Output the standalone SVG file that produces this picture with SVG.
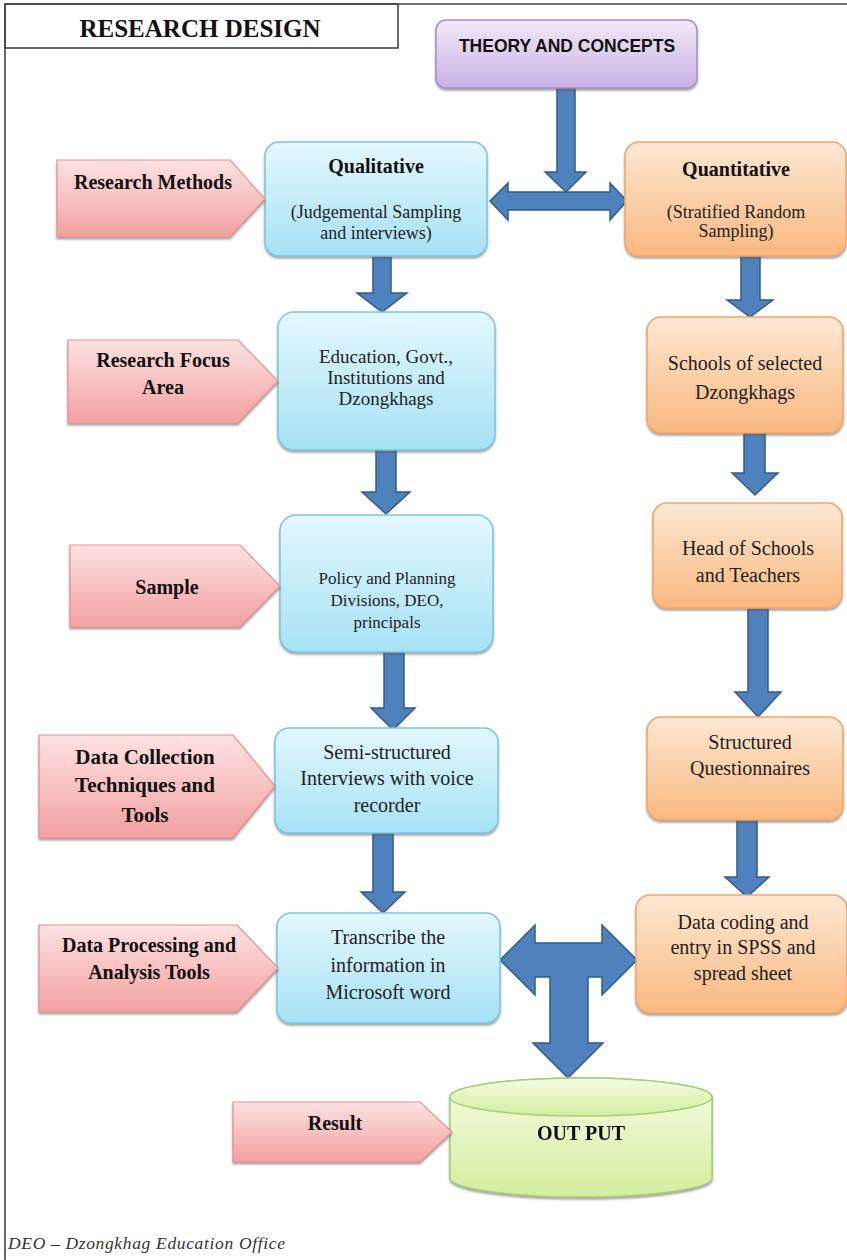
<svg xmlns="http://www.w3.org/2000/svg" width="847" height="1260" viewBox="0 0 847 1260">
<defs>
<linearGradient id="gPink" x1="0" y1="0" x2="0" y2="1"><stop offset="0" stop-color="#fde2e2"/><stop offset="1" stop-color="#f3a0a0"/></linearGradient>
<linearGradient id="gBlue" x1="0" y1="0" x2="0" y2="1"><stop offset="0" stop-color="#e4f8fe"/><stop offset="1" stop-color="#a6e1f5"/></linearGradient>
<linearGradient id="gOrange" x1="0" y1="0" x2="0" y2="1"><stop offset="0" stop-color="#fee8d4"/><stop offset="1" stop-color="#f9b87f"/></linearGradient>
<linearGradient id="gPurple" x1="0" y1="0" x2="0" y2="1"><stop offset="0" stop-color="#f1e9f9"/><stop offset="1" stop-color="#c9b1e4"/></linearGradient>
<linearGradient id="gGreen" x1="0" y1="0" x2="0" y2="1"><stop offset="0" stop-color="#f5fce2"/><stop offset="1" stop-color="#d3ee9f"/></linearGradient>
<filter id="sh" x="-5%" y="-5%" width="110%" height="115%"><feDropShadow dx="0" dy="2" stdDeviation="1" flood-color="#555" flood-opacity="0.55"/></filter>
<style>
.pink{fill:url(#gPink);stroke:#e39191;stroke-width:1.2;filter:url(#sh)}
.blue{fill:url(#gBlue);stroke:#7cc6df;stroke-width:1.5;filter:url(#sh)}
.orange{fill:url(#gOrange);stroke:#f2a56a;stroke-width:1.5;filter:url(#sh)}
.purple{fill:url(#gPurple);stroke:#a58fc8;stroke-width:1.5;filter:url(#sh)}
.green{fill:url(#gGreen);stroke:#a7cc7a;stroke-width:1.5}
.arr{fill:#4f81bd;stroke:#345a88;stroke-width:1.5;stroke-linejoin:miter}
.lbl{font-family:"Liberation Serif",serif;font-weight:bold;font-size:20px;fill:#111;text-anchor:middle}
.txt{font-family:"Liberation Serif",serif;font-size:18px;fill:#222;text-anchor:middle}
.txt20{font-family:"Liberation Serif",serif;font-size:20px;fill:#222;text-anchor:middle}
.frame{fill:none;stroke:#444;stroke-width:1.6}
</style>
</defs>
<rect width="847" height="1260" fill="#fff"/>
<g id="frame">
<line class="frame" x1="5" y1="4" x2="847" y2="4"/>
<line class="frame" x1="5" y1="4" x2="5" y2="1260"/>
<rect class="frame" x="5" y="4" width="393" height="44"/>
<text x="200" y="37" font-family="Liberation Serif,serif" font-weight="bold" font-size="25" fill="#111" text-anchor="middle">RESEARCH DESIGN</text>
</g>
<g id="connectors">
<path class="arr" d="M557,88 L575,88 L575,172 L586,172 L566,192 L545,172 L557,172 Z"/>
<path class="arr" d="M490,201 L508,183 L508,192 L610,192 L610,183 L627,201 L610,220 L610,210 L508,210 L508,220 Z"/>
<path class="arr" d="M373,256 L391,256 L391,293 L407,293 L382,312 L357,293 L373,293 Z"/>
<path class="arr" d="M376,450 L396,450 L396,492 L410,492 L386,514 L362,492 L376,492 Z"/>
<path class="arr" d="M384,652 L404,652 L404,708 L415,708 L393,730 L371,708 L384,708 Z"/>
<path class="arr" d="M373,833 L393,833 L393,892 L405,892 L383,913 L361,892 L373,892 Z"/>
<path class="arr" d="M741,256 L760,256 L760,300 L773,300 L750,317 L727,300 L741,300 Z"/>
<path class="arr" d="M744,433 L765,433 L765,473 L778,473 L755,495 L732,473 L744,473 Z"/>
<path class="arr" d="M748,608 L768,608 L768,692 L781,692 L758,717 L735,692 L748,692 Z"/>
<path class="arr" d="M737,820 L757,820 L757,877 L769,877 L747,897 L725,877 L737,877 Z"/>
<path class="arr" d="M500,960 L535,925 L535,943 L602,943 L602,925 L637,960 L602,995 L602,977 L588,977 L588,1043 L603,1043 L568,1078 L533,1043 L550,1043 L550,977 L535,977 L535,995 Z"/>
</g>
<g id="theory">
<rect class="purple" x="436" y="20" width="261" height="68" rx="10"/>
<text x="567" y="52" font-family="Liberation Sans,sans-serif" font-weight="bold" font-size="17.5" fill="#111" text-anchor="middle">THEORY AND CONCEPTS</text>
</g>
<g id="qualitative">
<rect class="blue" x="265" y="142" width="222" height="114" rx="14"/>
<text class="lbl" x="376" y="173">Qualitative</text>
<text class="txt" x="376" y="218">(Judgemental Sampling</text>
<text class="txt" x="376" y="239">and interviews)</text>
</g>
<g id="quantitative">
<rect class="orange" x="625" y="142" width="221" height="114" rx="14"/>
<text class="lbl" x="736" y="176">Quantitative</text>
<text class="txt" x="736" y="218">(Stratified Random</text>
<text class="txt" x="736" y="237">Sampling)</text>
</g>
<g id="research-methods">
<path class="pink" d="M57,160 L230,160 L265,199 L230,237 L57,237 Z"/>
<text class="lbl" x="153" y="189">Research Methods</text>
</g>
<g id="focus">
<rect class="blue" x="278" y="312" width="217" height="138" rx="16"/>
<text class="txt" x="386" y="363" style="font-size:19px">Education, Govt.,</text>
<text class="txt" x="386" y="384" style="font-size:19px">Institutions and</text>
<text class="txt" x="386" y="405" style="font-size:19px">Dzongkhags</text>
</g>
<g id="research-focus-area">
<path class="pink" d="M68,340 L238,340 L278,381 L238,423 L68,423 Z"/>
<text class="lbl" x="163" y="367">Research  Focus</text>
<text class="lbl" x="163" y="394">Area</text>
</g>
<g id="schools">
<rect class="orange" x="647" y="317" width="196" height="116" rx="14"/>
<text class="txt20" x="745" y="370">Schools of selected</text>
<text class="txt20" x="745" y="399">Dzongkhags</text>
</g>
<g id="sample-box">
<rect class="blue" x="280" y="515" width="213" height="137" rx="16"/>
<text class="txt" x="387" y="584" style="font-size:17px">Policy and Planning</text>
<text class="txt" x="387" y="606" style="font-size:17px">Divisions, DEO,</text>
<text class="txt" x="387" y="628" style="font-size:17px">principals</text>
</g>
<g id="sample">
<path class="pink" d="M70,545 L240,545 L280,586 L240,627 L70,627 Z"/>
<text class="lbl" x="167" y="594">Sample</text>
</g>
<g id="head">
<rect class="orange" x="653" y="503" width="189" height="105" rx="14"/>
<text class="txt20" x="748" y="555">Head of Schools</text>
<text class="txt20" x="748" y="582">and Teachers</text>
</g>
<g id="semi">
<rect class="blue" x="275" y="728" width="223" height="105" rx="14"/>
<text class="txt20" x="387" y="759">Semi-structured</text>
<text class="txt20" x="387" y="785">Interviews with voice</text>
<text class="txt20" x="387" y="812">recorder</text>
</g>
<g id="data-collection">
<path class="pink" d="M39,735 L233,735 L275,786 L233,838 L39,838 Z"/>
<text class="lbl" x="145" y="764" style="font-size:21px">Data Collection</text>
<text class="lbl" x="145" y="792" style="font-size:21px">Techniques and</text>
<text class="lbl" x="145" y="822" style="font-size:21px">Tools</text>
</g>
<g id="structured">
<rect class="orange" x="647" y="717" width="196" height="103" rx="14"/>
<text class="txt20" x="750" y="749">Structured</text>
<text class="txt20" x="750" y="775">Questionnaires</text>
</g>
<g id="transcribe">
<rect class="blue" x="277" y="913" width="223" height="110" rx="14"/>
<text class="txt20" x="388" y="944">Transcribe the</text>
<text class="txt20" x="388" y="972">information in</text>
<text class="txt20" x="388" y="999">Microsoft word</text>
</g>
<g id="data-processing">
<path class="pink" d="M39,925 L237,925 L278,968 L237,1012 L39,1012 Z"/>
<text class="lbl" x="149" y="952">Data Processing and</text>
<text class="lbl" x="149" y="979">Analysis Tools</text>
</g>
<g id="data-coding">
<rect class="orange" x="636" y="895" width="211" height="118" rx="14"/>
<text class="txt20" x="743" y="929">Data coding and</text>
<text class="txt20" x="743" y="954">entry in SPSS and</text>
<text class="txt20" x="743" y="980">spread sheet</text>
</g>
<g id="output" filter="url(#sh)">
<path class="green" d="M450,1097 L450,1178 A131,19 0 0 0 712,1178 L712,1097 A131,19 0 0 0 450,1097 Z"/>
<ellipse class="green" cx="581" cy="1097" rx="131" ry="19"/>
<text class="lbl" x="581" y="1140">OUT PUT</text>
</g>
<g id="result">
<path class="pink" d="M233,1102 L420,1102 L452,1132 L420,1162 L233,1162 Z"/>
<text class="lbl" x="335" y="1130">Result</text>
</g>
<text x="8" y="1249" font-family="Liberation Serif,serif" font-style="italic" font-size="17.5" fill="#333" textLength="277" lengthAdjust="spacing">DEO – Dzongkhag Education Office</text>
</svg>
